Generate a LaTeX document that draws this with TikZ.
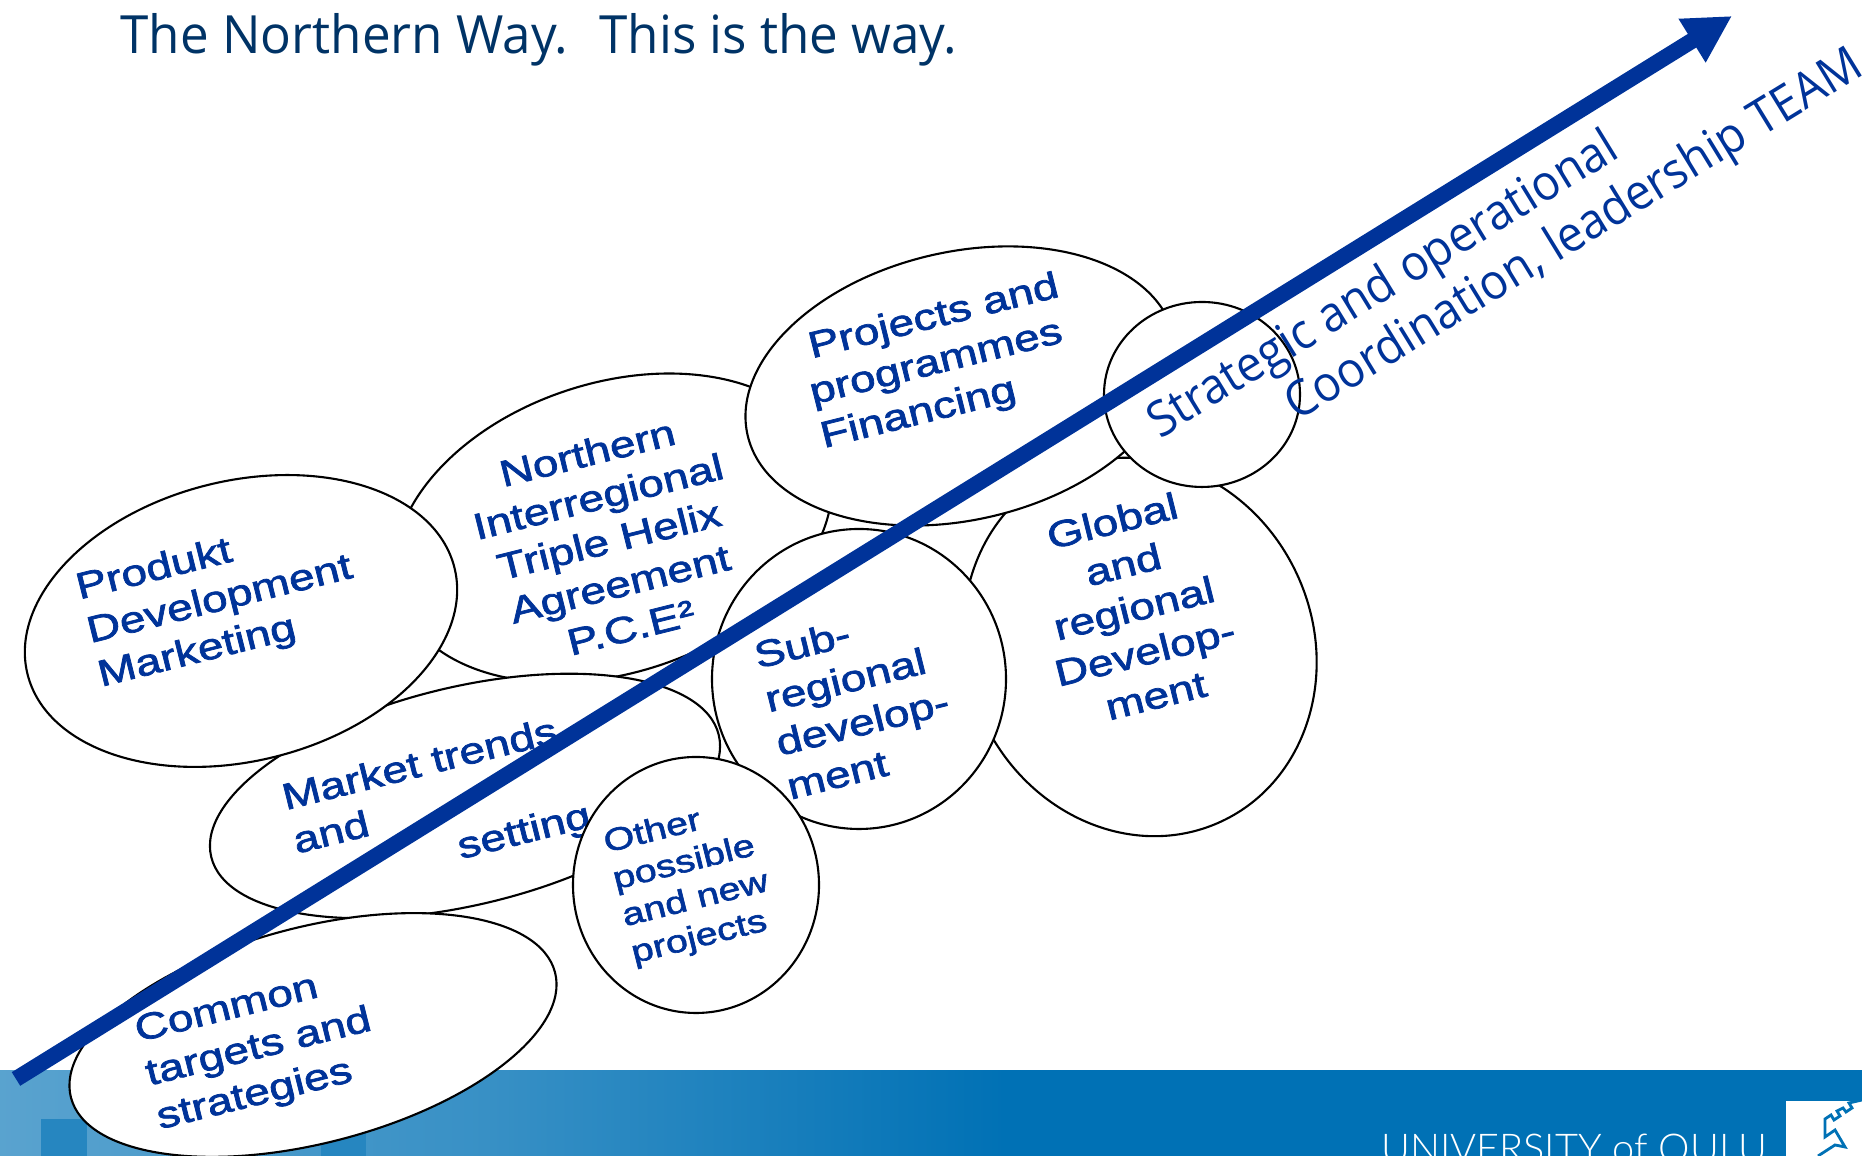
\documentclass[tikz,border=0pt]{standalone}
\usepackage{fontspec}
\usepackage{xcolor}
\usetikzlibrary{shapes.geometric}
\usetikzlibrary{arrows.meta}
\newfontfamily\bubblefont[FakeStretch=1.25,FakeBold=2]{Liberation Sans}
\newfontfamily\notefont[FakeStretch=0.94]{Open Sans}
\newfontfamily\titlefont[FakeStretch=0.97]{Open Sans}
\newfontfamily\footfont{Lato Light}
\definecolor{wayblue}{HTML}{003399}
\definecolor{titleblue}{HTML}{003366}
\definecolor{footblue}{HTML}{0071B5}
\colorlet{footleft}{footblue!65!white}
\colorlet{footmid}{footblue!78!white}
\pgfdeclarehorizontalshading{footshade}{100bp}{color(0bp)=(footleft); color(25bp)=(footleft); color(38bp)=(footmid); color(52bp)=(footblue); color(100bp)=(footblue)}
\begin{document}
\begin{tikzpicture}[>={Triangle[length=4.7mm,width=4.8mm]},
	                    blob node/.style={ellipse,draw,fill=white,inner sep=0pt,outer sep=0pt,line width=0.6pt},
	                    blob text/.style={text=wayblue,inner sep=0pt,rotate=14,font=\bubblefont\fontsize{10.5}{12.8}\selectfont},
	                    way text/.style={text=wayblue,inner sep=0pt,rotate=31.5,font=\notefont\fontsize{14}{16}\selectfont}]
		\clip (0, 0) rectangle (18.62, 11.56);
		% Footer
		  \shade [shading=footshade] (0, 0) rectangle (18.62, 0.85);
		  \fill [footblue!85!white] (0.41, 0) rectangle (0.87, 0.37);
		  \fill [footblue!85!white] (3.21, 0) rectangle (3.66, 0.26);
		  \fill [white] (17.86, 0) rectangle (18.62, 0.55);
		  \draw [footblue, line width=0.8pt] (18.18, 0) -- (18.35, 0.11) -- (18.45, 0.09) -- (18.35, 0.26) -- (18.25, 0.19) -- (18.25, 0.37)
		    -- (18.31, 0.41) -- (18.34, 0.36) -- (18.40, 0.40) -- (18.37, 0.45) -- (18.43, 0.48) -- (18.46, 0.44) -- (18.52, 0.48) -- (18.49, 0.53) -- (18.62, 0.56);
		  \node (University) at (15.74, -0.07) [anchor=base, text=white, font=\footfont\fontsize{11.3}{14}\selectfont] {UNIVERSITY of OULU};

		% Title
		  \node (Title) at (1.20, 11.16) [anchor=west, inner sep=0pt, text=titleblue, font=\titlefont\fontsize{15}{18}\selectfont] {The Northern Way.~ This is the way.};

		% Nodes
		  \node (Northern) at (6.13, 6.28) [blob node, rotate=18, minimum width=4.50cm, minimum height=2.90cm] {};
		  \node (NorthernText) at (6.09, 6.16) [blob text, align=center] {Northern\\Interregional\\Triple Helix\\Agreement\\P.C.E²};

		  \node (Market) at (4.65, 3.60) [blob node, rotate=13.5, minimum width=5.22cm, minimum height=2.18cm] {};
		  \node (MarketText) at (4.37, 3.47) [blob text, align=left] {Market trends\\and\\\hspace*{1.58cm}setting};

		  \node (Produkt) at (2.41, 5.35) [blob node, rotate=14, minimum width=4.40cm, minimum height=2.80cm] {};
		  \node (ProduktText) at (2.20, 5.55) [blob text, align=left] {Produkt\\Development\\Marketing};

		  \node (Global) at (11.40, 5.09) [blob node, rotate=115, minimum width=3.85cm, minimum height=3.46cm] {};
		  \node (GlobalText) at (11.34, 5.48) [blob text, align=center] {Global\\and\\regional\\Develop-\\ment};

		  \node (Projects) at (9.61, 7.70) [blob node, rotate=13, minimum width=4.38cm, minimum height=2.68cm] {};
		  \node (ProjectsText) at (9.40, 7.93) [blob text, align=left] {\hspace*{0.10cm}Projects and\\programmes\\Financing};

		  \node (Sub) at (8.59, 4.77) [blob node, minimum width=2.94cm, minimum height=3.00cm] {};
		  \node (SubText) at (8.57, 4.56) [blob text, align=left] {Sub-\\regional\\develop-\\ment};

		  \node (Other) at (6.96, 2.71) [blob node, minimum width=2.46cm, minimum height=2.56cm] {};
		  \node (OtherText) at (6.91, 2.74) [blob text, align=left, font=\bubblefont\fontsize{9}{10.8}\selectfont] {Other\\possible\\and new\\projects};

		  \node (Common) at (3.13, 1.21) [blob node, rotate=14.5, minimum width=5.00cm, minimum height=2.16cm] {};
		  \node (CommonText) at (2.59, 1.07) [blob text, align=left] {Common\\targets and\\strategies};

		  \node (Strategic) at (12.02, 7.615) [blob node, minimum width=1.96cm, minimum height=1.85cm] {};

		% Way
		  \coordinate (WayStart) at (0.16, 0.77);
		  \coordinate (WayEnd) at (17.32, 11.40);
		  \draw [->, wayblue, line width=1.6mm] (WayStart) -- (WayEnd);

		  \node (WayOne) at (13.84, 8.69) [way text] {Strategic and operational};
		  \node (WayTwo) at (15.75, 9.19) [way text] {Coordination, leadership TEAM};
		\end{tikzpicture}
\end{document}
